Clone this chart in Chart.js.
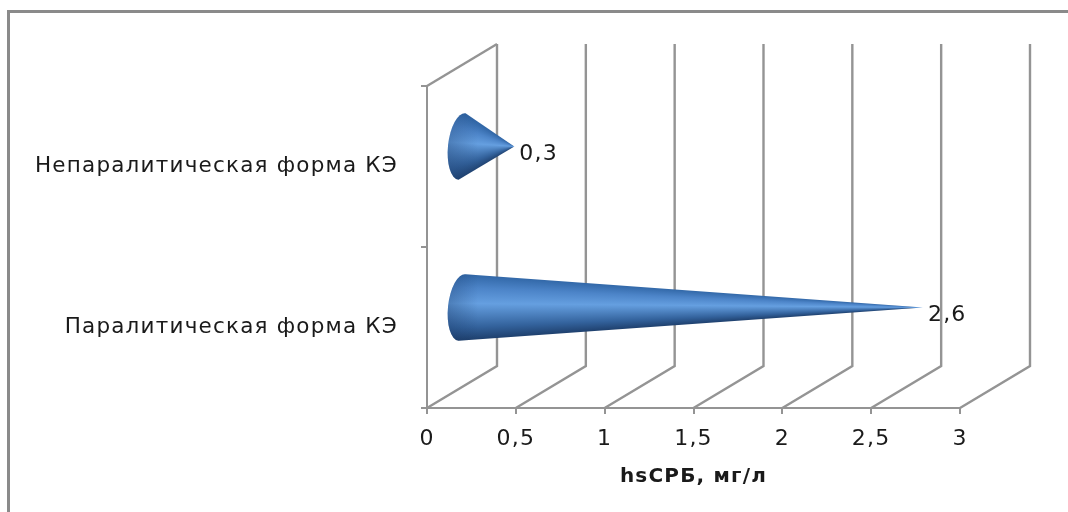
<!DOCTYPE html>
<html><head><meta charset="utf-8">
<style>html,body{margin:0;padding:0;background:#fff}#w{position:relative;width:1068px;height:512px}</style>
<script src="https://cdn.jsdelivr.net/npm/chart.js@4"></script></head>
<body><div id="w"><canvas id="c" width="1068" height="512"></canvas></div>
<script>
const categories = ['Непаралитическая форма КЭ', 'Паралитическая форма КЭ'];
const seriesValues = [0.3, 2.6];
const valueLabels = ['0,3', '2,6'];
const tickLabels = ['0', '0,5', '1', '1,5', '2', '2,5', '3'];
const axisTitle = 'hsСРБ, мг/л';

const GREY = '#949494', DX = 70, DY = 42;
const FONT = '"DejaVu Sans", sans-serif';

const wallPlugin = {
  id: 'wall',
  beforeDatasetsDraw(chart) {
    const {ctx, chartArea: a, scales: {x}} = chart;
    ctx.save();
    ctx.strokeStyle = GREY; ctx.lineWidth = 2.4; ctx.lineJoin = 'miter';
    x.ticks.forEach(t => {
      const px = x.getPixelForValue(t.value);
      ctx.beginPath();
      ctx.moveTo(px, a.bottom);
      ctx.lineTo(px + DX, a.bottom - DY);
      ctx.lineTo(px + DX, a.top - DY);
      ctx.stroke();
    });
    ctx.beginPath();
    ctx.moveTo(a.left, a.top);
    ctx.lineTo(a.left + DX, a.top - DY);
    ctx.stroke();
    ctx.restore();
  }
};

const conePlugin = {
  id: 'cones',
  afterDatasetsDraw(chart) {
    const {ctx} = chart;
    const base = chart.scales.x.getPixelForValue(0);
    chart.getDatasetMeta(0).data.forEach((bar, i) => {
      const cx = base + DX / 2, cy = bar.y - 20, ry = 33.5, rx = 14, rot = 6 * Math.PI / 180;
      const tipX = bar.x + DX / 2 - 1, tipY = cy;
      const alpha = Math.atan2(ry, tipX - cx);
      const g = ctx.createConicGradient(0, tipX, tipY);
      const s = (Math.PI - alpha) / (2 * Math.PI), e = (Math.PI + alpha) / (2 * Math.PI), w = e - s;
      g.addColorStop(s, '#1e3f6c');
      g.addColorStop(s + w * .2, '#33629c');
      g.addColorStop(s + w * .56, '#659fe0');
      g.addColorStop(s + w * .8, '#4c84c8');
      g.addColorStop(e, '#3268a8');
      ctx.save();
      ctx.beginPath();
      ctx.moveTo(tipX, tipY);
      ctx.ellipse(cx, cy, rx, ry, rot, -Math.PI / 2, Math.PI / 2, true);
      ctx.closePath();
      ctx.fillStyle = g;
      ctx.fill();
      ctx.clip();
      const h = ctx.createLinearGradient(cx - rx, 0, cx + 16, 0);
      h.addColorStop(0, 'rgba(20,50,95,.3)');
      h.addColorStop(1, 'rgba(20,50,95,0)');
      ctx.fillStyle = h;
      ctx.fillRect(cx - rx - 2, cy - ry - 2, rx + 20, 2 * ry + 4);
      ctx.restore();
      ctx.save();
      ctx.fillStyle = '#1a1a1a';
      ctx.font = '22px ' + FONT;
      ctx.textAlign = 'left'; ctx.textBaseline = 'middle';
      ctx.fillText(valueLabels[i], tipX + 5, tipY + 8);
      ctx.restore();
    });
  }
};

const framePlugin = {
  id: 'frame',
  beforeDraw(chart) {
    const {ctx} = chart;
    ctx.letterSpacing = '1.2px';
    ctx.save();
    ctx.strokeStyle = '#8a8a8a'; ctx.lineWidth = 3;
    ctx.beginPath();
    ctx.moveTo(8.5, 512); ctx.lineTo(8.5, 11.5); ctx.lineTo(1068, 11.5);
    ctx.stroke();
    ctx.restore();
  }
};

new Chart(document.getElementById('c'), {
  type: 'bar',
  data: { labels: categories, datasets: [{ data: seriesValues, backgroundColor: 'rgba(0,0,0,0)', borderWidth: 0 }] },
  plugins: [framePlugin, wallPlugin, conePlugin],
  options: {
    indexAxis: 'y', responsive: false, animation: false,
    layout: { padding: { left: 0, top: 86, right: 108, bottom: 0 } },
    plugins: { legend: { display: false }, tooltip: { enabled: false } },
    scales: {
      x: {
        min: 0, max: 3,
        afterFit(s) { s.height = 104; },
        ticks: { stepSize: 0.5, maxRotation: 0, color: '#1a1a1a', padding: 12, font: { family: FONT, size: 22 },
          callback(v, i) { return tickLabels[i]; } },
        grid: { drawOnChartArea: false, color: GREY, lineWidth: 2, tickLength: 6 },
        border: { color: GREY, width: 2 },
        title: { display: true, text: axisTitle, color: '#1a1a1a', font: { family: FONT, size: 20, weight: 'bold' }, padding: { top: 6, bottom: 23 } }
      },
      y: {
        afterFit(s) { s.width = 427; },
        ticks: { color: '#1a1a1a', padding: 23, font: { family: FONT, size: 21.5 } },
        grid: { drawOnChartArea: false, color: GREY, lineWidth: 2, tickLength: 6 },
        border: { color: GREY, width: 2 }
      }
    }
  }
});
</script></body></html>
